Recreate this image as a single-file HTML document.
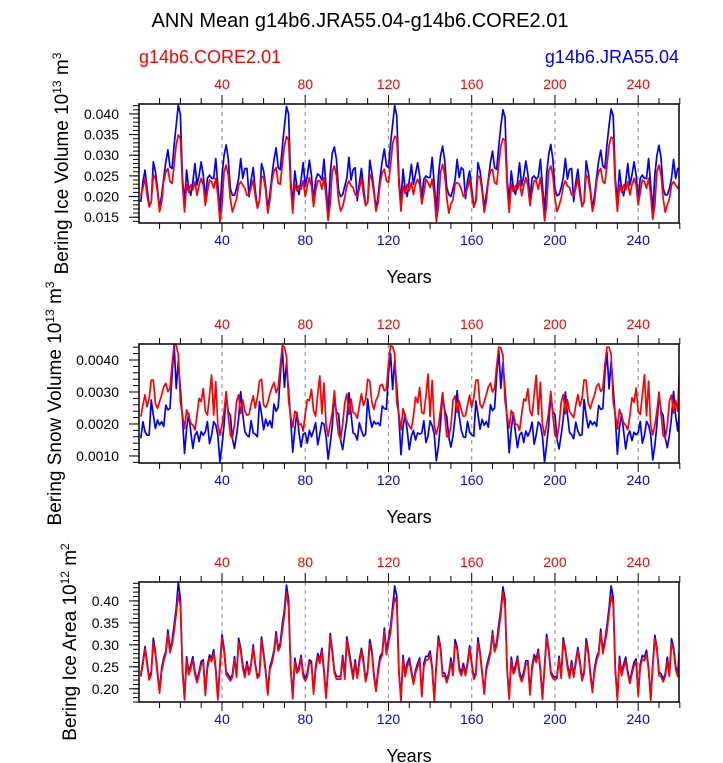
<!DOCTYPE html>
<html><head><meta charset="utf-8"><style>
html,body{margin:0;padding:0;background:#fff;}
svg{display:block;font-family:"Liberation Sans",sans-serif;}
</style></head><body>
<svg id="chart" width="723" height="763" viewBox="0 0 723 763">
<text x="360" y="27" text-anchor="middle" font-size="20">ANN Mean g14b6.JRA55.04-g14b6.CORE2.01</text>
<text x="139" y="63" font-size="18" fill="#f00">g14b6.CORE2.01</text>
<text x="679" y="63" text-anchor="end" font-size="18" fill="#00f">g14b6.JRA55.04</text>
</svg>
<script>
const years = Array.from({length:260},(_, i)=>i+1);
const xTicks = [40,80,120,160,200,240];

const iceVolBlue = [
.0187,.0236,.0264,.0220,.0179,.0187,.0284,.0260,.0220,.0171,.0203,.0244,.0284,.0313,.0272,.0268,.0325,.0373,.0422,.0398,.0244,.0187,.0264,.0220,.0203,.0236,.0280,.0228,.0252,.0284,.0252,.0195,.0244,.0252,.0244,.0244,.0292,.0228,.0163,.0252,.0300,.0325,.0292,.0220,.0203,.0203,.0220,.0244,.0292,.0244,.0268,.0268,
.0200,.0240,.0270,.0215,.0175,.0190,.0280,.0262,.0225,.0170,.0205,.0250,.0290,.0318,.0270,.0265,.0320,.0370,.0418,.0400,.0240,.0180,.0262,.0225,.0205,.0240,.0282,.0225,.0250,.0288,.0250,.0190,.0240,.0255,.0250,.0240,.0290,.0225,.0160,.0255,.0305,.0320,.0290,.0215,.0200,.0205,.0225,.0245,.0295,.0240,.0265,.0270,
.0190,.0232,.0268,.0222,.0180,.0185,.0288,.0258,.0218,.0168,.0200,.0248,.0286,.0315,.0275,.0270,.0328,.0375,.0420,.0395,.0246,.0185,.0266,.0218,.0200,.0238,.0278,.0230,.0255,.0282,.0250,.0198,.0242,.0250,.0246,.0246,.0295,.0230,.0165,.0250,.0298,.0322,.0288,.0222,.0205,.0200,.0218,.0240,.0290,.0246,.0270,.0265,
.0195,.0238,.0262,.0218,.0178,.0190,.0282,.0262,.0222,.0172,.0205,.0242,.0282,.0310,.0270,.0266,.0322,.0370,.0410,.0392,.0242,.0190,.0262,.0222,.0205,.0235,.0282,.0226,.0250,.0286,.0254,.0196,.0245,.0250,.0242,.0248,.0290,.0226,.0162,.0254,.0302,.0326,.0290,.0218,.0202,.0205,.0222,.0246,.0292,.0242,.0266,.0268,
.0188,.0234,.0266,.0220,.0176,.0188,.0286,.0258,.0220,.0170,.0202,.0246,.0286,.0312,.0274,.0268,.0326,.0372,.0412,.0396,.0244,.0188,.0264,.0220,.0202,.0236,.0280,.0228,.0252,.0284,.0252,.0194,.0244,.0252,.0244,.0244,.0292,.0228,.0164,.0252,.0300,.0324,.0292,.0220,.0204,.0204,.0220,.0244,.0290,.0244,.0268,.0266];
const iceVolRed = [
.0203,.0220,.0244,.0203,.0175,.0187,.0252,.0244,.0211,.0163,.0187,.0236,.0260,.0268,.0236,.0232,.0276,.0325,.0349,.0341,.0228,.0163,.0228,.0211,.0228,.0216,.0236,.0203,.0228,.0244,.0228,.0179,.0211,.0240,.0236,.0220,.0244,.0203,.0139,.0179,.0260,.0276,.0252,.0195,.0163,.0179,.0195,.0228,.0236,.0228,.0220,.0203,
.0205,.0222,.0240,.0200,.0172,.0190,.0250,.0246,.0214,.0160,.0190,.0238,.0262,.0270,.0232,.0230,.0278,.0322,.0345,.0338,.0225,.0160,.0230,.0214,.0226,.0218,.0238,.0200,.0226,.0246,.0225,.0176,.0214,.0238,.0238,.0218,.0246,.0200,.0142,.0182,.0262,.0274,.0250,.0192,.0165,.0176,.0198,.0226,.0238,.0226,.0222,.0205,
.0200,.0218,.0246,.0205,.0178,.0185,.0254,.0242,.0208,.0165,.0185,.0234,.0258,.0266,.0238,.0234,.0274,.0328,.0346,.0342,.0230,.0165,.0226,.0208,.0230,.0214,.0234,.0205,.0230,.0242,.0230,.0182,.0208,.0242,.0234,.0222,.0242,.0205,.0140,.0176,.0258,.0278,.0254,.0198,.0160,.0182,.0192,.0230,.0234,.0230,.0218,.0200,
.0206,.0222,.0242,.0202,.0174,.0188,.0250,.0246,.0212,.0162,.0188,.0238,.0262,.0266,.0234,.0230,.0278,.0322,.0340,.0336,.0226,.0162,.0230,.0212,.0226,.0218,.0238,.0202,.0226,.0246,.0226,.0178,.0212,.0238,.0238,.0218,.0246,.0202,.0141,.0180,.0262,.0274,.0250,.0194,.0164,.0178,.0196,.0226,.0238,.0226,.0222,.0204,
.0202,.0220,.0244,.0204,.0176,.0186,.0252,.0244,.0210,.0164,.0186,.0236,.0260,.0268,.0236,.0232,.0276,.0324,.0344,.0340,.0228,.0164,.0228,.0210,.0228,.0216,.0236,.0204,.0228,.0244,.0228,.0180,.0210,.0240,.0236,.0220,.0244,.0204,.0145,.0180,.0260,.0276,.0252,.0196,.0162,.0180,.0194,.0228,.0236,.0228,.0220,.0230];

const snowBlue = [
.00155,.00207,.00176,.00165,.00165,.00275,.00228,.00186,.00212,.00197,.00207,.00192,.00259,.00244,.00249,.00353,.00447,.00311,.00395,.00311,.00218,.00108,.00186,.00233,.00176,.00124,.00165,.00176,.00145,.00176,.00165,.00176,.00207,.00139,.00165,.00207,.00197,.00165,.00082,.00134,.00197,.00291,.00239,.00228,.00155,.00124,.00165,.00218,.00301,.00228,.00176,.00165,
.00160,.00210,.00172,.00168,.00160,.00270,.00232,.00182,.00215,.00194,.00210,.00188,.00262,.00240,.00252,.00350,.00440,.00315,.00390,.00305,.00214,.00112,.00182,.00236,.00172,.00128,.00168,.00172,.00140,.00180,.00160,.00180,.00204,.00135,.00168,.00204,.00200,.00160,.00090,.00138,.00194,.00288,.00236,.00232,.00150,.00120,.00168,.00214,.00298,.00232,.00172,.00168,
.00150,.00204,.00180,.00162,.00168,.00278,.00224,.00190,.00208,.00200,.00204,.00195,.00256,.00248,.00246,.00356,.00420,.00308,.00398,.00314,.00222,.00104,.00190,.00230,.00180,.00120,.00162,.00180,.00150,.00172,.00168,.00172,.00210,.00142,.00162,.00210,.00194,.00168,.00085,.00130,.00200,.00294,.00242,.00224,.00158,.00128,.00162,.00222,.00304,.00224,.00180,.00160,
.00158,.00208,.00174,.00166,.00162,.00272,.00230,.00184,.00214,.00196,.00208,.00190,.00260,.00242,.00250,.00352,.00430,.00312,.00392,.00308,.00216,.00110,.00184,.00234,.00174,.00126,.00166,.00174,.00142,.00178,.00162,.00178,.00206,.00137,.00166,.00206,.00198,.00162,.00080,.00136,.00196,.00290,.00238,.00230,.00152,.00122,.00166,.00216,.00300,.00230,.00174,.00166,
.00154,.00206,.00178,.00164,.00166,.00276,.00226,.00188,.00210,.00198,.00206,.00193,.00258,.00246,.00248,.00354,.00425,.00310,.00396,.00312,.00220,.00106,.00188,.00232,.00178,.00122,.00164,.00178,.00148,.00174,.00166,.00174,.00208,.00140,.00164,.00208,.00196,.00166,.00088,.00132,.00198,.00292,.00240,.00226,.00156,.00126,.00164,.00220,.00302,.00226,.00178,.00250];
const snowRed = [
.00223,.00259,.00291,.00254,.00280,.00337,.00337,.00264,.00249,.00270,.00291,.00317,.00327,.00301,.00311,.00384,.00447,.00447,.00416,.00270,.00228,.00186,.00244,.00228,.00202,.00197,.00181,.00228,.00280,.00270,.00311,.00239,.00228,.00291,.00353,.00228,.00332,.00197,.00165,.00197,.00239,.00301,.00228,.00165,.00155,.00197,.00270,.00291,.00233,.00275,.00239,.00228,
.00230,.00262,.00288,.00250,.00284,.00334,.00340,.00260,.00252,.00266,.00294,.00314,.00330,.00298,.00314,.00380,.00445,.00440,.00410,.00274,.00224,.00190,.00240,.00232,.00198,.00200,.00178,.00232,.00276,.00274,.00308,.00242,.00224,.00294,.00350,.00232,.00328,.00200,.00162,.00200,.00236,.00304,.00224,.00168,.00152,.00200,.00266,.00294,.00230,.00278,.00236,.00232,
.00218,.00256,.00294,.00258,.00276,.00340,.00334,.00268,.00246,.00274,.00288,.00320,.00324,.00304,.00308,.00388,.00445,.00442,.00420,.00266,.00232,.00182,.00248,.00224,.00206,.00194,.00184,.00224,.00284,.00266,.00314,.00236,.00232,.00288,.00356,.00224,.00336,.00194,.00168,.00194,.00242,.00298,.00232,.00162,.00158,.00194,.00274,.00288,.00236,.00272,.00242,.00224,
.00226,.00260,.00290,.00252,.00282,.00336,.00338,.00262,.00250,.00268,.00292,.00316,.00328,.00300,.00312,.00382,.00440,.00438,.00414,.00272,.00226,.00188,.00242,.00230,.00200,.00198,.00180,.00230,.00278,.00272,.00310,.00240,.00226,.00292,.00352,.00230,.00330,.00198,.00164,.00198,.00238,.00302,.00226,.00166,.00154,.00198,.00268,.00292,.00232,.00276,.00238,.00230,
.00220,.00258,.00292,.00256,.00278,.00338,.00336,.00266,.00248,.00272,.00290,.00318,.00326,.00302,.00310,.00386,.00440,.00440,.00418,.00268,.00230,.00184,.00246,.00226,.00204,.00196,.00182,.00226,.00282,.00268,.00312,.00238,.00230,.00290,.00354,.00226,.00334,.00196,.00166,.00196,.00240,.00300,.00230,.00164,.00156,.00196,.00272,.00290,.00234,.00274,.00240,.00400];

const areaBlue = [
.232,.262,.296,.262,.224,.239,.315,.285,.239,.194,.247,.270,.285,.334,.289,.308,.345,.383,.442,.406,.247,.179,.273,.239,.254,.273,.239,.220,.239,.262,.266,.190,.254,.277,.270,.289,.247,.179,.254,.323,.292,.239,.232,.224,.232,.273,.232,.315,.292,.254,.232,.262,
.236,.258,.300,.258,.228,.236,.318,.282,.242,.190,.250,.266,.288,.330,.292,.304,.348,.380,.436,.402,.250,.182,.270,.242,.250,.276,.236,.224,.236,.266,.262,.194,.250,.280,.266,.292,.244,.182,.250,.326,.288,.242,.228,.228,.228,.276,.228,.318,.288,.258,.228,.266,
.228,.266,.292,.266,.220,.242,.312,.288,.236,.198,.244,.274,.282,.338,.286,.312,.342,.386,.434,.410,.244,.176,.276,.236,.258,.270,.242,.216,.242,.258,.270,.186,.258,.274,.274,.286,.250,.176,.258,.320,.296,.236,.236,.220,.236,.270,.236,.312,.296,.250,.236,.258,
.234,.260,.298,.260,.226,.238,.316,.284,.240,.192,.248,.268,.286,.332,.290,.306,.346,.382,.432,.404,.248,.180,.272,.240,.252,.274,.238,.222,.238,.264,.264,.192,.252,.278,.268,.290,.246,.180,.252,.324,.290,.240,.230,.226,.230,.274,.230,.316,.290,.256,.230,.264,
.230,.264,.294,.264,.222,.240,.314,.286,.238,.196,.246,.272,.284,.336,.288,.310,.344,.384,.434,.408,.246,.178,.274,.238,.256,.272,.240,.218,.240,.260,.268,.188,.256,.276,.272,.288,.248,.178,.256,.322,.294,.238,.234,.222,.234,.272,.234,.314,.294,.252,.234,.305];
const areaRed = [
.228,.255,.290,.255,.220,.232,.305,.278,.232,.190,.240,.262,.280,.325,.282,.300,.330,.370,.415,.390,.240,.175,.265,.232,.246,.266,.232,.214,.232,.255,.260,.185,.246,.270,.262,.282,.240,.175,.246,.315,.285,.232,.226,.218,.226,.266,.226,.306,.285,.246,.226,.255,
.232,.252,.294,.252,.224,.230,.310,.275,.236,.186,.244,.258,.282,.322,.286,.296,.334,.368,.420,.386,.244,.178,.262,.236,.242,.270,.228,.218,.228,.260,.256,.188,.242,.274,.258,.286,.236,.178,.242,.318,.280,.236,.222,.222,.222,.270,.222,.310,.280,.250,.222,.260,
.224,.258,.286,.258,.216,.236,.302,.282,.228,.194,.236,.266,.276,.330,.278,.304,.328,.374,.408,.394,.236,.172,.268,.228,.250,.262,.236,.210,.236,.250,.264,.182,.250,.266,.266,.278,.244,.172,.250,.312,.290,.228,.230,.214,.230,.262,.230,.302,.290,.242,.230,.250,
.230,.254,.292,.254,.222,.232,.306,.278,.234,.188,.242,.260,.280,.326,.284,.298,.332,.370,.420,.388,.242,.176,.264,.234,.244,.268,.230,.216,.230,.256,.258,.186,.244,.272,.260,.284,.238,.176,.244,.316,.284,.234,.224,.220,.224,.268,.224,.308,.284,.248,.224,.256,
.226,.256,.288,.256,.218,.234,.304,.280,.230,.192,.238,.264,.278,.328,.280,.302,.330,.372,.412,.392,.238,.174,.266,.230,.248,.264,.234,.212,.234,.252,.262,.184,.248,.268,.264,.280,.242,.174,.248,.314,.288,.230,.228,.216,.228,.264,.228,.304,.288,.244,.228,.300];

const panels = [
 {name:'ice-volume', top:104, bottom:223, ymin:0.0136, ymax:0.0424, major:[0.015,0.020,0.025,0.030,0.035,0.040], labels:['0.015','0.020','0.025','0.030','0.035','0.040'], minorStep:0.001, blue:iceVolBlue, red:iceVolRed, title:'Bering Ice Volume 10', exp1:'13', unit:' m', exp2:'3', tx:68},
 {name:'snow-volume', top:344, bottom:463, ymin:0.00078, ymax:0.0045, major:[0.001,0.002,0.003,0.004], labels:['0.0010','0.0020','0.0030','0.0040'], minorStep:0.0002, blue:snowBlue, red:snowRed, title:'Bering Snow Volume 10', exp1:'13', unit:' m', exp2:'3', tx:61},
 {name:'ice-area', top:582, bottom:702, ymin:0.17, ymax:0.443, major:[0.20,0.25,0.30,0.35,0.40], labels:['0.20','0.25','0.30','0.35','0.40'], minorStep:0.01, blue:areaBlue, red:areaRed, title:'Bering Ice Area 10', exp1:'12', unit:' m', exp2:'2', tx:76}
];
const L=139, R=679;
const xs = v => 138.75 + v*2.081;
const NS='http://www.w3.org/2000/svg';
const svg=document.getElementById('chart');
function mk(tag, attrs, parent){const e=document.createElementNS(NS,tag);for(const k in attrs)e.setAttribute(k,attrs[k]);(parent||svg).appendChild(e);return e;}

panels.forEach(p=>{
 const g=mk('g',{});
 
 
 const ys = v => p.bottom - (v-p.ymin)/(p.ymax-p.ymin)*(p.bottom-p.top);
 const clipId='clip-'+p.name;
 const cp=mk('clipPath',{id:clipId},g);
 mk('rect',{x:L,y:p.top,width:R-L,height:p.bottom-p.top},cp);
 xTicks.forEach(t=>{
  const gl=mk('line',{x1:xs(t),x2:xs(t),y1:p.top,y2:p.bottom,stroke:'#999','stroke-width':1.2,'stroke-dasharray':'4,4'},g);
  
  
 });
 [['blue','#00f'],['red','#f00']].forEach(([k,c])=>{
  const d=p[k].map((v,i)=>(i?'L':'M')+xs(years[i]).toFixed(2)+','+ys(v).toFixed(2)).join('');
  const path=mk('path',{d:d,fill:'none',stroke:c,'stroke-width':1.7,'stroke-linejoin':'round','clip-path':'url(#'+clipId+')'},g);
  
  
 });
 const box=mk('rect',{x:L,y:p.top,width:R-L,height:p.bottom-p.top,fill:'none',stroke:'#000','stroke-width':1.5},g);
 
 
 for(let t=10;t<=260;t+=10){
  const maj=t%40===0, len=maj?9:6, x=xs(t);
  mk('line',{x1:x,x2:x,y1:p.top,y2:p.top-len,stroke:'#000','stroke-width':1},g);
  mk('line',{x1:x,x2:x,y1:p.bottom,y2:p.bottom+len,stroke:'#000','stroke-width':1},g);
 }
 xTicks.forEach(t=>{
  const a=mk('text',{x:xs(t),y:p.top-15,'text-anchor':'middle','font-size':14,fill:'#f00'},g);
  a.textContent=t;
  
  
  const b=mk('text',{x:xs(t),y:p.bottom+22,'text-anchor':'middle','font-size':14,fill:'#00f'},g);
  b.textContent=t;
  
  
 });
 for(let v=Math.ceil(p.ymin/p.minorStep)*p.minorStep; v<=p.ymax; v+=p.minorStep){
  const y=ys(v);
  mk('line',{x1:L,x2:L-6,y1:y,y2:y,stroke:'#000','stroke-width':1},g);
 }
 p.major.forEach((v,i)=>{
  const y=ys(v);
  mk('line',{x1:L,x2:L-10,y1:y,y2:y,stroke:'#000','stroke-width':1},g);
  const t=mk('text',{x:L-20,y:y+5,'text-anchor':'end','font-size':14},g);
  t.textContent=p.labels[i];
  
  
 });
 const xt=mk('text',{x:409,y:p.bottom+60,'text-anchor':'middle','font-size':18},g);
 xt.textContent='Years';
 
 
 const cy=(p.top+p.bottom)/2;
 const yt=mk('text',{x:0,y:0,'text-anchor':'middle','font-size':19,transform:'translate('+p.tx+','+cy+') rotate(-90)'},g);
 
 
 const s1=mk('tspan',{},yt); s1.textContent=p.title;
 const s2=mk('tspan',{dy:-7,'font-size':12},yt); s2.textContent=p.exp1;
 const s3=mk('tspan',{dy:7},yt); s3.textContent=p.unit;
 const s4=mk('tspan',{dy:-7,'font-size':12},yt); s4.textContent=p.exp2;
});
</script>
</body></html>
